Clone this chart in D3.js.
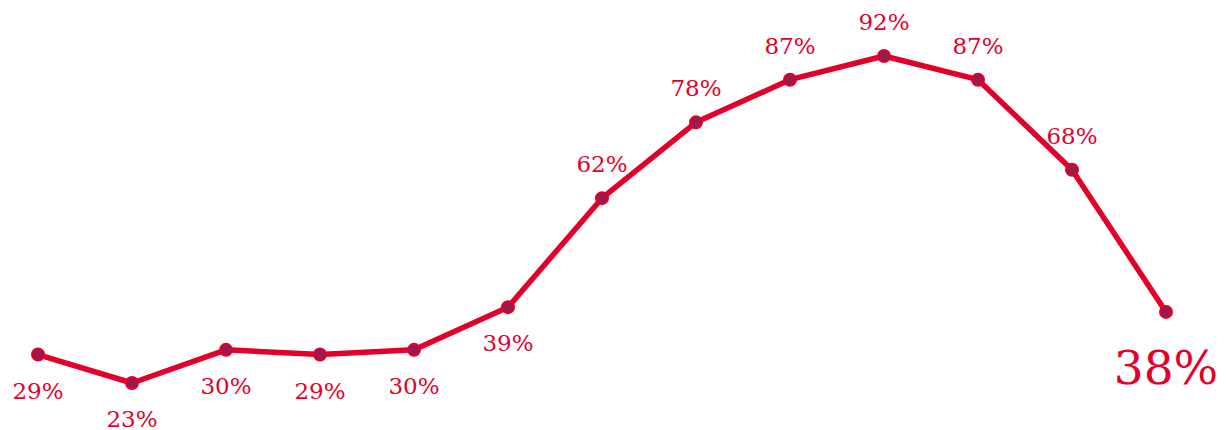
<!DOCTYPE html>
<html>
<head>
<meta charset="utf-8">
<script src="https://cdn.jsdelivr.net/npm/d3@7"></script>
<style>
  body { margin: 0; background: #fff; }
  .lbl { font-family: "DejaVu Serif", Georgia, serif; fill: #e2002b; text-anchor: middle; font-variant-numeric: oldstyle-nums; }
</style>
</head>
<body>
<div id="chart"></div>
<script>
// values, in percent
var points = [0, 1, 2, 3, 4, 5, 6, 7, 8, 9, 10, 11, 12];
var values = [29, 23, 30, 29, 30, 39, 62, 78, 87, 92, 87, 68, 38];
// which labels sit under the point
var below = [true, true, true, true, true, true, false, false, false, false, false, false, true];

var w = 1226, h = 430;
var red = "#e2002b", dot = "#9b1a4e";

var svg = d3.select("#chart").append("svg")
    .attr("width", w)
    .attr("height", h);

var x = d3.scaleLinear().domain([0, 12]).range([38, 1166]);
var y = d3.scaleLinear().domain([23, 92]).range([383, 56]);

var line = d3.line()
    .x(function (d, i) { return x(points[i]); })
    .y(function (d) { return y(d); });

svg.append("path")
    .datum(values)
    .attr("d", line)
    .attr("fill", "none")
    .attr("stroke", red)
    .attr("stroke-width", 5.5)
    .attr("stroke-linejoin", "round");

svg.selectAll("circle.pt")
    .data(values).enter()
    .append("circle")
    .attr("class", "pt")
    .attr("cx", function (d, i) { return x(points[i]); })
    .attr("cy", function (d) { return y(d); })
    .attr("r", 6)
    .attr("fill", dot)
    .attr("stroke", red)
    .attr("stroke-width", 2);

var last = values.length - 1;
svg.selectAll("text.lbl")
    .data(values).enter()
    .append("text")
    .attr("class", "lbl")
    .attr("x", function (d, i) { return x(points[i]); })
    .attr("y", function (d, i) {
        if (i == last) return y(d) + 72;
        return below[i] ? y(d) + 44 : y(d) - 26;
    })
    .style("font-size", function (d, i) { return i == last ? "47px" : "23px"; })
    .text(function (d) { return d + "%"; });
</script>
</body>
</html>
